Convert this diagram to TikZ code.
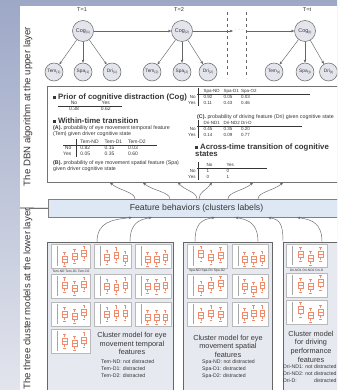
\documentclass[tikz,border=0pt]{standalone}
\usepackage{fontspec}
\setmainfont{Liberation Sans}
\usetikzlibrary{arrows.meta}
\definecolor{bandtop}{HTML}{9DA8C7}
\definecolor{bandbot}{HTML}{E3E5ED}
\definecolor{txt}{HTML}{363636}
\definecolor{circfill}{HTML}{E4E4ED}
\definecolor{fbfill}{HTML}{DEE8F4}
\definecolor{clfill}{HTML}{E7E9F0}
\definecolor{bpc}{HTML}{EF8C6E}
\definecolor{edge}{HTML}{666666}
\newcommand{\fs}[2]{\fontsize{#1}{#2}\selectfont}
\newcommand{\sbs}[1]{\raisebox{-1pt}{\fs{3.4}{4}#1}}
\newcommand{\bsq}{\rule[0.4pt]{2.8pt}{2.8pt}}
\newcommand{\bxp}[4]{%
  \draw[bpc,line width=0.35pt,densely dashed] (#1,#2-#4) -- (#1,#2+#4);
  \draw[bpc,line width=0.35pt,fill=white] (#1-2.4,#2-#3) rectangle (#1+2.4,#2+#3);
  \draw[bpc,line width=0.35pt] (#1-2.4,#2) -- (#1+2.4,#2)
     (#1-1.2,#2-#4) -- (#1+1.2,#2-#4) (#1-1.2,#2+#4) -- (#1+1.2,#2+#4);}
\newcommand{\bpanel}[7]{%
  \fill[white] (#1,#2) rectangle (#3,#4);
  \draw[gray!55,line width=0.3pt] (#1,#2) rectangle (#3,#4);
  \draw[gray!70,line width=0.3pt] (#1+6,#2+2) -- (#1+6,#4-2);
  \pgfmathsetmacro{\bpW}{#3-#1}\pgfmathsetmacro{\bpH}{#4-#2}%
  \pgfmathsetmacro{\bpB}{0.13*\bpH}\pgfmathsetmacro{\bpV}{0.3*\bpH}%
  \bxp{#1+0.35*\bpW}{#2+#5*\bpH}{\bpB}{\bpV}
  \bxp{#1+0.6*\bpW}{#2+#6*\bpH}{\bpB}{\bpV}
  \bxp{#1+0.84*\bpW}{#2+#7*\bpH}{\bpB}{\bpV}}
\begin{document}
\begin{tikzpicture}[x=1pt,y=-1pt,
  cog/.style={circle,draw=edge,line width=0.5pt,fill=circfill,minimum size=21pt,inner sep=0pt,font=\fs{5.4}{6},text=txt},
  obs/.style={circle,draw=edge,line width=0.5pt,fill=circfill,minimum size=18pt,inner sep=0pt,font=\fs{4.8}{6},text=txt},
  arr/.style={draw=edge,line width=0.45pt,-{Stealth[length=3.2pt,width=2.6pt]}},
  tlab/.style={font=\fs{5.6}{6},text=txt,inner sep=0pt},
  hd/.style={font=\fs{7.8}{7.6}\bfseries,text=txt,inner sep=0pt,anchor=west,align=left},
  sm/.style={font=\fs{5.3}{5.8},text=txt,inner sep=0pt,anchor=west,align=left},
  tabl/.style={font=\fs{5}{6},text=txt,inner sep=0pt,anchor=north west},
  tabr/.style={font=\fs{4.5}{6},text=txt,inner sep=0pt,anchor=north west},
  tline/.style={draw=txt,line width=0.4pt},
  clbox/.style={draw=black!60,line width=0.9pt,fill=clfill,anchor=north west,inner sep=0pt},
  cltitle/.style={font=\fs{7.3}{8.6},text=txt,align=center,inner sep=0pt},
  clkey/.style={font=\fs{5.2}{6.9},text=txt,align=left,inner sep=0pt,anchor=north west},
  xl/.style={font=\fs{3.3}{4},text=txt,inner sep=0pt},
  side/.style={font=\fs{9.6}{11},text=txt,rotate=90,inner sep=0pt},
]
\useasboundingbox (0,0) rectangle (337,390);
\clip (0,0) rectangle (337,390);
\shade[top color=bandtop,bottom color=bandbot] (0,0) rectangle (337,390);
\fill[white] (20,6) rectangle (337,390);

% side labels
\node[side] (sideU) at (28,106.5) {The DBN algorithm at the upper layer};
\node[side] (sideL) at (28,299) {The three cluster models at the lower layer};

% time labels
\node[tlab] (T1) at (82,10) {T=1};
\node[tlab] (T2) at (179,10) {T=2};
\node[tlab] (Tt) at (307,10) {T=t};

% DBN nodes
\node[cog] (c1) at (83,31) {Cog\sbs{(1)}};
\node[obs] (te1) at (54,72) {Tem\sbs{(1)}};
\node[obs] (sp1) at (83,72) {Spa\sbs{(1)}};
\node[obs] (dr1) at (112,72) {Dri\sbs{(1)}};
\node[cog] (c2) at (182,31) {Cog\sbs{(2)}};
\node[obs] (te2) at (152,72) {Tem\sbs{(2)}};
\node[obs] (sp2) at (182,72) {Spa\sbs{(2)}};
\node[obs] (dr2) at (208,72) {Dri\sbs{(2)}};
\node[cog] (ct) at (305,31) {Cog\sbs{(t)}};
\node[obs] (tet) at (274,72) {Tem\sbs{(t)}};
\node[obs] (spt) at (305,72) {Spa\sbs{(t)}};
\node[obs] (drt) at (328.5,72) {Dri\sbs{(t)}};
\foreach \a/\b in {c1/te1,c1/sp1,c1/dr1,c2/te2,c2/sp2,c2/dr2,ct/tet,ct/spt,ct/drt,c1/c2}
  \draw[arr] (\a) -- (\b);
\coordinate (dl) at (233,31);
\coordinate (dr) at (246,31);
\draw[arr] (c2) -- (dl);
\node[font=\fs{5}{6},text=edge,inner sep=0pt] (dots) at (239.5,30) {$\cdots$};
\draw[arr] (dr) -- (ct);
\draw[edge,line width=0.4pt,dashed] (227,12) -- (227,78) (246,12) -- (246,78);

% table box
\node[draw=black!55,line width=0.8pt,fill=white,anchor=north west,minimum width=300pt,minimum height=96pt,inner sep=0pt] (tbl) at (47,86) {};
\node[hd] (h1) at (53,97.5) {\bsq\ Prior of cognitive distraction (Cog)};
\node[tabl] (ptab) at (58,100.5) {\setlength{\tabcolsep}{11pt}\begin{tabular}{cc}No & Yes\\0.38 & 0.62\end{tabular}};
\draw[tline] (58,106.5) -- (122,106.5);
\node[hd] (h2) at (53,120.5) {\bsq\ Within-time transition};
\node[sm] (pa) at (53,131) {\textbf{(A).} probability of eye movement temporal feature\\(Tem) given driver cognitive state};
\node[tabl] (ttab) at (63,139) {\begin{tabular}{@{}r@{\hspace{9pt}}l@{\hspace{6pt}}l@{\hspace{6pt}}l@{}} & Tem-ND & Tem-D1 & Tem-D2\\No & 0.82 & 0.15 & 0.03\\Yes & 0.05 & 0.35 & 0.60\end{tabular}};
\draw[tline] (63,145) -- (157,145) (76,139) -- (76,157);
\node[sm] (pb) at (53,166) {\textbf{(B).} probability of eye movement spatial feature (Spa)\\given driver cognitive state};

\node[tabr] (stab) at (188,88) {\begin{tabular}{@{}r@{\hspace{8pt}}p{20pt}@{}p{17.5pt}@{}l@{}} & Spa-ND & Spa-D1 & Spa-O2\\No & 0.92 & 0.05 & 0.03\\Yes & 0.11 & 0.43 & 0.46\end{tabular}};
\draw[tline] (197,94) -- (310,94) (198.5,88) -- (198.5,106);
\node[sm] (pc) at (197,117.5) {\textbf{(C).} probability of driving feature (Dri) given cognitive state};
\node[tabr] (dtab) at (188,120) {\begin{tabular}{@{}r@{\hspace{8pt}}p{20pt}@{}p{17.5pt}@{}l@{}} & Dri-ND1 & Dri-ND2 & Dri-D\\No & 0.45 & 0.35 & 0.20\\Yes & 0.14 & 0.09 & 0.77\end{tabular}};
\draw[tline] (197,126) -- (302,126) (198.5,120) -- (198.5,138);
\node[hd,anchor=north west] (h3) at (195,143.5) {\bsq\ Across-time transition of cognitive\\states};
\node[tabr] (atab) at (188,162) {\begin{tabular}{@{}r@{\hspace{11pt}}p{20pt}@{}l@{}} & No & Yes\\No & 1 & 0\\Yes & 0 & 1\end{tabular}};
\draw[tline] (197,168) -- (267,168) (198.5,162) -- (198.5,180);

% feature behaviours
\node[draw=black!50,line width=0.6pt,fill=fbfill,anchor=north west,minimum width=300pt,minimum height=18pt,inner sep=0pt] (fb) at (48,199) {};
\node[font=\fs{8.7}{10},text=txt,inner sep=0pt] (fbt) at (196.5,208) {Feature behaviors (clusters labels)};
\coordinate (lft) at (20,208);
\draw[black!85,line width=0.8pt] (lft) -- (fb.west);

% upper arcs
\coordinate (u1s) at (135,199); \coordinate (u1e) at (110,182.5);
\coordinate (u2s) at (170,199); \coordinate (u2e) at (143,182.5);
\coordinate (u3s) at (197,199); \coordinate (u3e) at (178,182.5);
\coordinate (u4s) at (199,199); \coordinate (u4e) at (212,182.5);
\coordinate (u5s) at (228,199); \coordinate (u5e) at (253,182.5);
\coordinate (u6s) at (258,199); \coordinate (u6e) at (283,182.5);
\draw[arr] (u1s) .. controls +(0,-7) and +(9,8) .. (u1e);
\draw[arr] (u2s) .. controls +(0,-7) and +(9,8) .. (u2e);
\draw[arr] (u3s) .. controls +(0,-7) and +(7,8) .. (u3e);
\draw[arr] (u4s) .. controls +(0,-7) and +(-6,8) .. (u4e);
\draw[arr] (u5s) .. controls +(0,-7) and +(-9,8) .. (u5e);
\draw[arr] (u6s) .. controls +(0,-7) and +(-9,8) .. (u6e);

% cluster boxes
\node[clbox,minimum width=126pt,minimum height=160pt] (temc) at (47,242) {};
\node[clbox,minimum width=89pt,minimum height=160pt] (spac) at (183,242) {};
\node[clbox,minimum width=70pt,minimum height=160pt] (dric) at (283,242) {};

% lower arcs
\coordinate (l1s) at (97,242); \coordinate (l1e) at (132,217.5);
\coordinate (l2s) at (130,242); \coordinate (l2e) at (152,217.5);
\coordinate (l3s) at (195,242); \coordinate (l3e) at (215,217.5);
\coordinate (l4s) at (258,242); \coordinate (l4e) at (235,217.5);
\coordinate (l5s) at (283,242); \coordinate (l5e) at (268,217.5);
\coordinate (l6s) at (322,242); \coordinate (l6e) at (297,217.5);
\draw[arr] (l1s) .. controls +(0,-20) and +(-20,2) .. (l1e);
\draw[arr] (l2s) .. controls +(0,-18) and +(-14,2) .. (l2e);
\draw[arr] (l3s) .. controls +(0,-18) and +(-14,2) .. (l3e);
\draw[arr] (l4s) .. controls +(0,-18) and +(14,2) .. (l4e);
\draw[arr] (l5s) .. controls +(0,-18) and +(12,2) .. (l5e);
\draw[arr] (l6s) .. controls +(0,-18) and +(16,2) .. (l6e);

% Tem panels
\bpanel{51}{244}{90}{268}{0.62}{0.5}{0.38}
\bpanel{94}{244}{131}{268}{0.55}{0.45}{0.6}
\bpanel{135}{244}{171}{268}{0.62}{0.62}{0.55}
\bpanel{51}{274}{90}{298}{0.45}{0.6}{0.42}
\bpanel{94}{274}{131}{298}{0.5}{0.55}{0.45}
\bpanel{135}{274}{171}{298}{0.5}{0.52}{0.45}
\bpanel{51}{302}{90}{326}{0.5}{0.58}{0.42}
\bpanel{94}{302}{131}{326}{0.5}{0.45}{0.45}
\bpanel{135}{302}{171}{326}{0.62}{0.62}{0.62}
\bpanel{51}{329}{90}{353}{0.5}{0.6}{0.45}
\node[xl] (tx) at (71,271) {Tem-ND Tem-D1 Tem-D2};
% Spa panels
\bpanel{187}{244}{227}{268}{0.4}{0.55}{0.45}
\bpanel{232}{244}{268}{268}{0.62}{0.62}{0.6}
\bpanel{187}{274}{227}{298}{0.6}{0.45}{0.38}
\bpanel{232}{274}{268}{298}{0.5}{0.62}{0.45}
\bpanel{187}{302}{227}{326}{0.55}{0.45}{0.5}
\bpanel{232}{302}{268}{326}{0.55}{0.45}{0.45}
\node[xl] (sx) at (207,271) {Spa-ND Spa-D1 Spa-D2};
% Dri panels
\bpanel{286}{244}{327}{267}{0.45}{0.62}{0.45}
\bpanel{286}{273}{327}{297}{0.5}{0.55}{0.4}
\bpanel{286}{300}{327}{324}{0.4}{0.62}{0.5}
\node[xl] (dx) at (306.5,270) {Dri-ND1 Dri-ND2 Dri-D};

% cluster texts
\node[cltitle] (temt) at (132,343.5) {Cluster model for eye\\movement temporal\\features};
\node[clkey] (temk) at (101,359.5) {Tem-ND: not distracted\\Tem-D1: distracted\\Tem-D2: distracted};
\node[cltitle] (spat) at (228,346) {Cluster model for eye\\movement spatial\\features};
\node[clkey] (spak) at (202,359.5) {Spa-ND: not distracted\\Spa-D1: distracted\\Spa-D2: distracted};
\node[cltitle] (drit) at (311,346.5) {Cluster model\\for driving\\performance\\features};
\node[clkey] (drik) at (283,364.5) {Dri-ND1: not distracted\\Dri-ND2: not distracted\\\rlap{Dri-D:}\hphantom{Dri-ND2: not }distracted};
\end{tikzpicture}
\end{document}
